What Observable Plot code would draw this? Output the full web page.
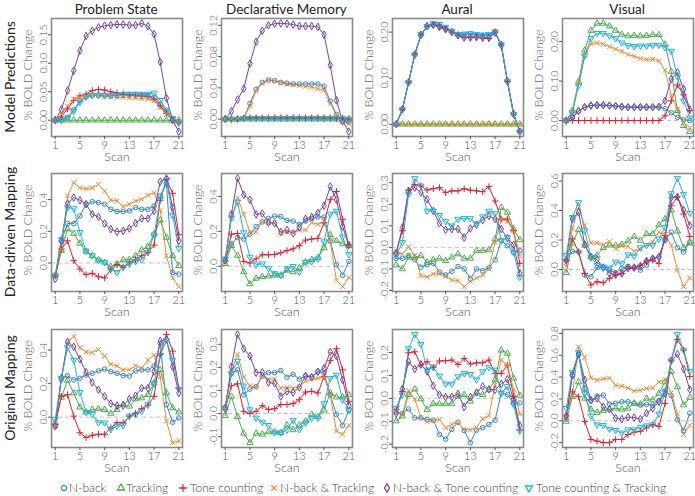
<!DOCTYPE html>
<html><head><meta charset="utf-8">
<script src="https://cdn.jsdelivr.net/npm/d3@7"></script>
<script src="https://cdn.jsdelivr.net/npm/@observablehq/plot@0.6"></script>
<style>
body{margin:0;background:#fff;overflow:hidden;font-family:Lato,"Open Sans",sans-serif;}
#root{position:relative;width:695px;height:496px;overflow:hidden;}
.panel{position:absolute;}
.lab{position:absolute;white-space:nowrap;line-height:1;transform:translate(-50%,-50%);}
.rot{transform:translate(-50%,-50%) rotate(-90deg);}
.leg{position:absolute;white-space:nowrap;line-height:1;transform:translateY(-50%);font-size:12px;color:#444;font-weight:300;}
.legsym{position:absolute;transform:translate(-50%,-50%);}
</style>
</head><body><div id="root"></div>
<script>
const scans = [1,2,3,4,5,6,7,8,9,10,11,12,13,14,15,16,17,18,19,20,21];
const xTicks = [1,5,9,13,17,21];
const rowNames = ["Model Predictions","Data-driven Mapping","Original Mapping"];
const colNames = ["Problem State","Declarative Memory","Aural","Visual"];
const seriesNames = ["N-back","Tracking","Tone counting","N-back & Tracking","N-back & Tone counting","Tone counting & Tracking"];
const seriesColors = ["#3a88c0","#4dab4f","#e0202e","#f28a35","#7446a0","#1fb2e0"];

// order of rows in each panel array: N-back, Tracking, Tone counting, N-back & Tracking, N-back & Tone counting, Tone counting & Tracking
const modelPS = [
 [0,0.001,0.005,0.018,0.034,0.042,0.044,0.044,0.044,0.044,0.044,0.045,0.045,0.045,0.044,0.043,0.040,0.028,0.015,0.003,-0.003],
 [0,0,0,0,0,0,0,0,0,0,0,0,0,0,0,0,0,0,0,0,0],
 [0,0.006,0.020,0.035,0.043,0.046,0.052,0.054,0.053,0.050,0.048,0.046,0.044,0.043,0.042,0.041,0.037,0.025,0.012,0.000,-0.004],
 [0,0.010,0.025,0.037,0.040,0.042,0.043,0.043,0.042,0.041,0.040,0.040,0.039,0.039,0.038,0.037,0.034,0.022,0.010,0.002,-0.003],
 [0,0.019,0.052,0.087,0.122,0.148,0.157,0.163,0.166,0.167,0.168,0.168,0.167,0.167,0.170,0.165,0.151,0.102,0.039,0.000,-0.020],
 [0,0,0.004,0.016,0.032,0.041,0.044,0.044,0.043,0.043,0.044,0.045,0.046,0.046,0.046,0.046,0.048,0.035,0.018,0.003,-0.005]];
const modelDM = [
 [0,0,0,0.001,0.020,0.038,0.047,0.050,0.049,0.047,0.046,0.045,0.045,0.045,0.045,0.045,0.042,0.023,0.006,-0.002,-0.004],
 [0,0,0,0,0,0,0,0,0,0,0,0,0,0,0,0,0,0,0,0,0],
 [0,0,0,0.0015,0.0015,0.0015,0.0015,0.0015,0.0015,0.0015,0.0015,0.0015,0.0015,0.0015,0.0015,0.0015,0.0015,0.0015,0.0015,0.001,0],
 [0,0,0,0.001,0.017,0.036,0.046,0.050,0.049,0.047,0.045,0.044,0.043,0.042,0.041,0.039,0.037,0.020,0.005,-0.003,-0.006],
 [0,0.010,0.025,0.039,0.071,0.099,0.113,0.120,0.122,0.1225,0.122,0.121,0.119,0.119,0.119,0.118,0.108,0.069,0.024,-0.003,-0.016],
 [0,0,0,0.001,0.001,0.001,0.001,0.001,0.001,0.001,0.001,0.001,0.001,0.001,0.001,0.001,0.001,0.001,0.001,0.001,0]];
const modelAural = [
 [0,0.032,0.091,0.151,0.193,0.212,0.216,0.213,0.208,0.200,0.193,0.195,0.196,0.193,0.193,0.193,0.200,0.172,0.093,0.022,-0.016],
 [0,0,0,0,0,0,0,0,0,0,0,0,0,0,0,0,0,0,0,0,0],
 [0,0.032,0.091,0.151,0.194,0.213,0.217,0.212,0.207,0.200,0.193,0.189,0.189,0.189,0.187,0.186,0.200,0.172,0.093,0.022,-0.016],
 [0,0,0,0,0,0,0,0,0,0,0,0,0,0,0,0,0,0,0,0,0],
 [0,0.032,0.091,0.151,0.194,0.213,0.216,0.211,0.206,0.200,0.193,0.188,0.188,0.189,0.188,0.188,0.199,0.172,0.093,0.022,-0.016],
 [0,0.032,0.091,0.151,0.195,0.213,0.219,0.217,0.211,0.202,0.195,0.196,0.197,0.195,0.194,0.195,0.201,0.173,0.093,0.022,-0.016]];
const modelVisual = [
 [0,0.008,0.024,0.034,0.038,0.039,0.039,0.038,0.037,0.035,0.034,0.034,0.034,0.034,0.034,0.034,0.030,0.020,0.008,0.002,0.000],
 [0,0.025,0.099,0.178,0.228,0.246,0.246,0.239,0.228,0.218,0.214,0.215,0.214,0.215,0.217,0.217,0.193,0.124,0.025,-0.013,-0.028],
 [0,0,0,0,0,0,0,0,0,0,0,0,0,0,0,0,0.012,0.050,0.090,0.065,0.025],
 [0,0.020,0.095,0.165,0.195,0.197,0.193,0.187,0.181,0.175,0.167,0.163,0.157,0.155,0.155,0.151,0.127,0.063,0.028,-0.005,-0.018],
 [0,0.008,0.024,0.034,0.038,0.039,0.039,0.038,0.037,0.035,0.034,0.034,0.034,0.034,0.034,0.035,0.050,0.105,0.122,0.080,0.028],
 [0,0.021,0.088,0.164,0.208,0.221,0.221,0.215,0.208,0.197,0.190,0.188,0.189,0.189,0.191,0.191,0.185,0.176,0.111,0.050,0.007]];

const dataPS = [
 [-0.08,0.14,0.249,0.249,0.297,0.371,0.387,0.381,0.371,0.339,0.325,0.325,0.329,0.350,0.339,0.339,0.360,0.423,0.50,-0.06,-0.07],
 [-0.08,0.077,0.214,0.186,0.124,0.073,0.046,0.019,0.004,-0.023,-0.006,0.019,0.021,0.046,0.082,0.103,0.182,0.270,0.161,0.046,-0.017],
 [-0.08,0.088,0.140,0.015,-0.038,-0.073,-0.065,-0.086,-0.094,-0.044,-0.010,-0.027,0.004,0.021,0.046,0.067,0.113,0.396,0.528,0.44,0.178],
 [-0.08,0.088,0.423,0.507,0.475,0.469,0.475,0.496,0.454,0.396,0.392,0.356,0.371,0.392,0.402,0.427,0.444,0.333,0.046,-0.094,-0.149],
 [-0.10,0.14,0.375,0.413,0.396,0.371,0.308,0.291,0.249,0.214,0.197,0.203,0.218,0.251,0.281,0.281,0.329,0.513,0.534,0.350,0.140],
 [-0.08,0.15,0.35,0.343,0.193,0.077,0.046,0.015,0.004,-0.038,-0.059,-0.027,-0.006,0.010,0.021,0.067,0.178,0.402,0.521,0.30,0.094]];
const dataDM = [
 [0.038,0.128,0.165,0.156,0.184,0.227,0.254,0.274,0.287,0.284,0.263,0.259,0.240,0.259,0.274,0.282,0.282,0.146,0.009,-0.051,0.028],
 [0.015,0.118,0.062,-0.032,-0.101,-0.069,-0.060,-0.056,-0.051,-0.051,-0.023,-0.032,-0.008,0.024,0.038,0.049,0.105,0.180,0.146,0.128,0.118],
 [0.030,0.184,0.188,0.028,0.019,0.043,0.066,0.066,0.068,0.077,0.090,0.100,0.118,0.150,0.156,0.160,0.250,0.381,0.428,0.269,0.122],
 [0.024,0.274,0.391,0.297,0.197,0.197,0.255,0.250,0.250,0.193,0.197,0.193,0.208,0.208,0.250,0.240,0.255,0.141,-0.079,-0.116,-0.064],
 [0.034,0.297,0.503,0.409,0.381,0.297,0.302,0.250,0.246,0.197,0.208,0.188,0.222,0.272,0.282,0.306,0.347,0.456,0.381,0.227,0.122],
 [0.043,0.278,0.368,0.193,0.053,0.009,0.015,-0.013,-0.041,-0.051,-0.013,0.000,-0.032,0.024,0.028,0.043,0.141,0.300,0.316,0.169,0.068]];
const dataAural = [
 [-0.051,-0.051,-0.038,-0.058,-0.092,-0.080,-0.074,-0.115,-0.128,-0.111,-0.089,-0.100,-0.146,-0.100,-0.108,-0.095,-0.058,0.031,0.008,-0.023,-0.015],
 [-0.082,-0.100,-0.046,-0.046,-0.038,-0.069,-0.058,-0.051,-0.062,-0.046,-0.031,-0.051,-0.051,-0.015,-0.015,-0.012,0.038,0.185,0.162,0.085,0.035],
 [-0.023,0.077,0.265,0.292,0.285,0.266,0.272,0.277,0.254,0.262,0.262,0.272,0.265,0.262,0.258,0.282,0.215,0.131,0.131,0.077,-0.074],
 [-0.023,-0.031,0.003,-0.038,-0.131,-0.138,-0.123,-0.123,-0.135,-0.151,-0.154,-0.182,-0.157,-0.143,-0.128,-0.100,0.023,0.131,0.120,0.077,-0.038],
 [-0.028,0.092,0.262,0.277,0.254,0.223,0.169,0.112,0.082,0.085,0.085,0.046,0.088,0.105,0.126,0.146,0.131,0.085,0.043,0.012,-0.120],
 [-0.038,0.023,0.246,0.320,0.285,0.169,0.169,0.149,0.120,0.100,0.131,0.135,0.134,0.108,0.142,0.169,0.157,0.031,0.046,-0.023,-0.138]];
const dataVisual = [
 [0.063,0.123,0.119,-0.038,-0.049,0.013,0.013,-0.004,-0.022,0.007,0.022,0.013,-0.004,0.029,0.074,0.085,0.197,0.253,0.148,0.119,0.186],
 [-0.022,0.179,0.269,0.164,0.085,0.096,0.148,0.164,0.164,0.170,0.193,0.224,0.197,0.242,0.242,0.302,0.343,0.403,0.260,0.148,0.179],
 [0.063,0.208,0.119,-0.027,-0.105,-0.083,-0.090,-0.060,-0.038,-0.027,0.007,0.011,0.029,0.058,0.063,0.040,0.231,0.432,0.493,0.376,0.224],
 [0.022,0.276,0.421,0.298,0.179,0.179,0.168,0.190,0.141,0.159,0.157,0.123,0.137,0.168,0.186,0.253,0.237,0.164,-0.004,-0.116,-0.056],
 [0.063,0.343,0.388,0.170,0.085,0.067,0.013,-0.027,-0.034,-0.027,0.011,0.013,0.022,0.058,0.074,0.085,0.208,0.488,0.493,0.403,0.298],
 [0.096,0.354,0.455,0.264,0.085,0.029,0.018,0.011,0.052,0.040,0.101,0.092,0.148,0.164,0.164,0.208,0.287,0.515,0.618,0.511,0.383]];

const origPS = [
 [-0.053,0.229,0.246,0.223,0.232,0.252,0.262,0.276,0.286,0.272,0.262,0.248,0.246,0.276,0.282,0.282,0.305,0.44,0.075,-0.03,-0.005],
 [-0.033,0.118,0.219,0.144,0.059,0.030,0.045,0.049,0.045,0.022,0.045,0.075,0.065,0.108,0.114,0.134,0.203,0.282,0.144,0.055,0.030],
 [-0.043,0.124,0.134,0.006,-0.093,-0.122,-0.108,-0.102,-0.102,-0.063,-0.033,-0.033,0.006,0.022,0.051,0.071,0.124,0.376,0.494,0.394,0.173],
 [-0.049,0.223,0.449,0.483,0.414,0.390,0.386,0.404,0.364,0.315,0.305,0.282,0.282,0.307,0.292,0.341,0.370,0.242,-0.024,-0.152,-0.142],
 [-0.053,0.232,0.449,0.420,0.345,0.268,0.207,0.164,0.124,0.081,0.069,0.069,0.108,0.128,0.173,0.173,0.272,0.455,0.463,0.301,0.144],
 [-0.014,0.232,0.416,0.341,0.148,0.030,0.016,-0.033,-0.033,-0.073,-0.053,-0.049,0.006,0.016,0.035,0.075,0.200,0.370,0.459,0.341,0.167]];
const origDM = [
 [0.027,0.174,0.189,0.081,0.106,0.117,0.163,0.177,0.177,0.186,0.157,0.170,0.149,0.163,0.160,0.181,0.177,0.081,-0.004,-0.051,0.013],
 [-0.009,0.074,-0.014,-0.086,-0.126,-0.086,-0.090,-0.080,-0.080,-0.083,-0.050,-0.071,-0.050,-0.033,-0.004,-0.014,0.014,0.089,0.071,0.071,0.081],
 [0.017,0.120,0.129,0.010,0.000,0.010,0.034,0.017,0.021,0.039,0.039,0.043,0.060,0.093,0.096,0.089,0.160,0.229,0.281,0.189,0.053],
 [0.020,0.181,0.257,0.157,0.120,0.114,0.163,0.149,0.150,0.110,0.113,0.110,0.114,0.141,0.149,0.153,0.157,0.081,-0.076,-0.090,-0.051],
 [0.024,0.203,0.343,0.281,0.249,0.177,0.179,0.134,0.131,0.074,0.096,0.091,0.113,0.163,0.157,0.181,0.196,0.267,0.249,0.146,0.036],
 [0.024,0.174,0.227,0.120,0.017,-0.019,-0.037,-0.051,-0.083,-0.083,-0.071,-0.029,-0.069,-0.040,-0.019,-0.019,0.043,0.153,0.167,0.060,0.017]];
const origAural = [
 [-0.060,-0.066,-0.046,-0.085,-0.085,-0.092,-0.095,-0.157,-0.178,-0.135,-0.104,-0.140,-0.193,-0.138,-0.128,-0.114,-0.095,0.023,0.016,-0.020,-0.020],
 [-0.099,-0.078,0.016,0.040,-0.003,-0.049,-0.023,-0.024,-0.024,-0.023,0.009,0.016,-0.013,0.023,0.016,0.037,0.081,0.210,0.196,0.088,0.013],
 [-0.049,0.030,0.199,0.203,0.145,0.160,0.135,0.163,0.164,0.167,0.148,0.174,0.150,0.155,0.155,0.167,0.109,0.109,0.145,0.009,-0.138],
 [-0.060,-0.071,0.033,-0.003,-0.085,-0.102,-0.096,-0.092,-0.128,-0.114,-0.106,-0.135,-0.138,-0.128,-0.089,-0.075,0.059,0.167,0.145,0.037,-0.068],
 [-0.066,0.042,0.160,0.128,0.148,0.117,0.055,0.016,0.006,0.006,0.020,-0.037,0.006,0.026,0.052,0.040,0.037,0.063,0.083,-0.006,-0.118],
 [-0.042,0.016,0.217,0.279,0.236,0.124,0.135,0.098,0.063,0.063,0.095,0.109,0.105,0.081,0.117,0.135,0.124,0.023,0.052,-0.027,-0.142]];
const origVisual = [
 [0.015,0.42,0.605,0.295,0.183,0.226,0.235,0.153,0.159,0.174,0.174,0.159,0.144,0.150,0.144,0.183,0.274,0.23,0.01,-0.09,0.07],
 [-0.006,0.22,0.355,0.205,0.105,0.075,0.093,0.105,0.114,0.105,0.114,0.159,0.153,0.205,0.19,0.25,0.355,0.451,0.31,0.144,0.213],
 [0.045,0.265,0.22,-0.006,-0.171,-0.186,-0.2,-0.2,-0.171,-0.171,-0.126,-0.105,-0.096,-0.066,-0.036,-0.051,0.159,0.55,0.746,0.647,0.406],
 [0.039,0.235,0.677,0.581,0.394,0.370,0.385,0.391,0.325,0.316,0.301,0.274,0.280,0.295,0.301,0.355,0.376,0.256,0.063,-0.126,-0.042],
 [0.045,0.415,0.611,0.376,0.19,0.205,0.129,0.105,0.024,0.015,0.033,0.030,0.015,0.069,0.114,0.174,0.25,0.55,0.611,0.475,0.286],
 [0.114,0.445,0.626,0.25,0.045,-0.036,-0.042,-0.075,-0.087,-0.111,-0.081,-0.081,-0.057,-0.045,-0.036,0.063,0.265,0.55,0.791,0.647,0.454]];

const yTicksModel = [[0,0.05,0.10,0.15],[0,0.04,0.08,0.12],[0,0.1,0.2],[0,0.1,0.2]];
const yTicksData = [[0,0.2,0.4],[0,0.2,0.4],[-0.2,-0.1,0,0.1,0.2,0.3],[0,0.2,0.4,0.6]];
const yTicksOrig = [[0,0.2,0.4],[-0.1,0,0.1,0.2,0.3],[-0.2,-0.1,0,0.1,0.2],[-0.2,0,0.2,0.4,0.6,0.8]];

const panels = [[modelPS,modelDM,modelAural,modelVisual],[dataPS,dataDM,dataAural,dataVisual],[origPS,origDM,origAural,origVisual]];
const yTicks = [yTicksModel,yTicksData,yTicksOrig];
const tickDigits = [2,1,1];

// custom downward triangle
const triDown = {draw(context, size){
  const y = -Math.sqrt(size / (Math.sqrt(3) * 3));
  context.moveTo(0, -y * 2);
  context.lineTo(-Math.sqrt(3) * y, y);
  context.lineTo(Math.sqrt(3) * y, y);
  context.closePath();
}};
const seriesSymbols = ["circle","triangle","plus","times","diamond",triDown];

const frameLefts = [50.7,220.9,391.5,561.6];
const frameTops = [18.3,172.7,329];
const FW = 131, FH = 118;
const ML = 46, MR = 2, MT = 3, MB = 40;

const root = document.getElementById("root");

function makePanel(vals, yt, digits){
  const all = vals.flat();
  const lo = d3.min(all), hi = d3.max(all), pad = (hi - lo) * 0.045;
  const marks = [Plot.ruleY([0], {stroke:"#c4c4c4", strokeDasharray:"4,3", strokeWidth:1})];
  vals.forEach((v,i) => {
    const data = scans.map((s,j) => ({scan:s, value:v[j]}));
    marks.push(Plot.line(data, {x:"scan", y:"value", stroke:seriesColors[i], strokeWidth:1}));
  });
  vals.forEach((v,i) => {
    const data = scans.map((s,j) => ({scan:s, value:v[j]}));
    marks.push(Plot.dot(data, {x:"scan", y:"value", stroke:seriesColors[i], fill:"none", symbol:seriesSymbols[i], r:2.3, strokeWidth:1}));
  });
  marks.push(Plot.frame({stroke:"#8a8a8a", strokeWidth:1.6}));
  marks.push(Plot.axisX({ticks:xTicks, tickSize:3, tickPadding:1.5, label:null, fontSize:11}));
  marks.push(Plot.axisY({ticks:yt, tickSize:3, tickPadding:2, tickRotate:-90, tickFormat:d => d.toFixed(digits), label:null, fontSize:10.5}));
  marks.push(Plot.text(["Scan"], {frameAnchor:"bottom", dy:24, fontSize:12.5, fill:"#555"}));
  return Plot.plot({
    width: ML + FW + MR, height: MT + FH + MB,
    marginLeft: ML, marginRight: MR, marginTop: MT, marginBottom: MB,
    x: {domain:[0.4,21.6]},
    y: {domain:[lo - pad, hi + pad]},
    style: {fontFamily:"Lato, sans-serif", fontSize:"11px", fontWeight:300, color:"#555", background:"transparent", overflow:"visible"},
    marks
  });
}

for (let r = 0; r < 3; r++) {
  for (let c = 0; c < 4; c++) {
    const svg = makePanel(panels[r][c], yTicks[r][c], tickDigits[r]);
    svg.classList.add("panel");
    svg.style.left = (frameLefts[c] - ML) + "px";
    svg.style.top = (frameTops[r] - MT) + "px";
    root.appendChild(svg);
  }
}

function addLabel(text, x, y, size, color, rotate, weight){
  const d = document.createElement("div");
  d.className = "lab" + (rotate ? " rot" : "");
  d.textContent = text;
  d.style.left = x + "px"; d.style.top = y + "px";
  d.style.fontSize = size + "px"; d.style.color = color;
  d.style.fontWeight = weight;
  root.appendChild(d);
}
colNames.forEach((t,c) => addLabel(t, frameLefts[c] + FW/2, 10, 13.5, "#222", false, 400));
rowNames.forEach((t,r) => addLabel(t, 10, frameTops[r] + FH/2, 14, "#222", true, 400));
for (let r = 0; r < 3; r++) for (let c = 0; c < 4; c++)
  addLabel("% BOLD Change", frameLefts[c] - 23, frameTops[r] + FH/2 - 2, 12.5, "#666", true, 300);

// legend
const legSymX = [64,121,183,274,387,529];
const legTextX = [69,126,190,280,393,536];
const legY = 488;
seriesNames.forEach((name,i) => {
  const svg = d3.create("svg").attr("width",10).attr("height",10).attr("class","legsym")
    .style("left", legSymX[i] + "px").style("top", legY + "px").style("overflow","visible");
  const sym = typeof seriesSymbols[i] === "string"
    ? {circle:d3.symbolCircle,triangle:d3.symbolTriangle,plus:d3.symbolPlus,times:d3.symbolTimes,diamond:d3.symbolDiamond}[seriesSymbols[i]]
    : seriesSymbols[i];
  svg.append("path").attr("transform","translate(5,5)")
    .attr("d", d3.symbol(sym, Math.PI * 2.6 * 2.6)())
    .attr("fill","none").attr("stroke",seriesColors[i]).attr("stroke-width",1.3);
  root.appendChild(svg.node());
  const t = document.createElement("div");
  t.className = "leg"; t.textContent = name;
  t.style.left = legTextX[i] + "px"; t.style.top = legY + "px";
  root.appendChild(t);
});
</script>
</body></html>
